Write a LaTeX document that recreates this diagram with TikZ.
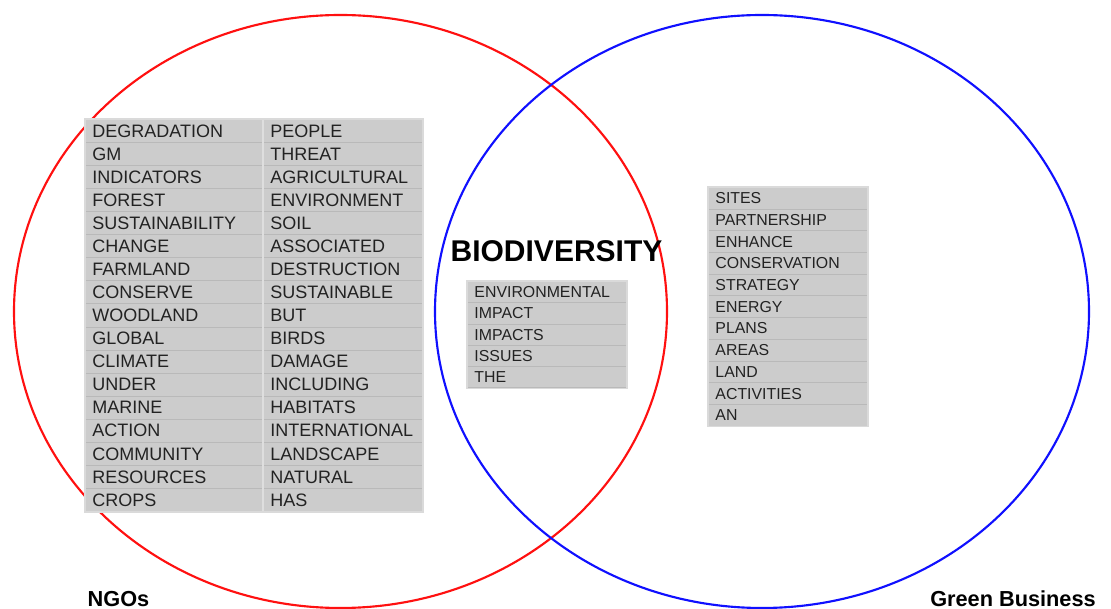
\documentclass[tikz,border=0pt]{standalone}
\usepackage{fontspec}
\setmainfont{Liberation Sans}
\begin{document}
\definecolor{cellgray}{HTML}{CCCCCC}
\definecolor{rowline}{HTML}{B9B9B9}
\definecolor{colline}{HTML}{DEDEDE}
\definecolor{frameline}{HTML}{DADADA}
\definecolor{wordcol}{HTML}{222222}
\definecolor{ngored}{HTML}{FF1010}
\definecolor{bizblue}{HTML}{1010FF}
\begin{tikzpicture}[x=0.75pt,y=-0.75pt,
  circ/.style={line width=1.6pt},
  cellbase/.style={rectangle,fill=cellgray,draw=rowline,line width=0.7pt,
    inner ysep=0pt,inner xsep=7*0.75pt,align=left,anchor=north west,text=wordcol},
  bigcell/.style={cellbase,font=\fontsize{13.5pt}{14pt}\selectfont,
    minimum height=23.06*0.75pt},
  wideA/.style={bigcell,text width=164*0.75pt},
  wideB/.style={bigcell,text width=145*0.75pt},
  smallcell/.style={cellbase,font=\fontsize{11.9pt}{12.5pt}\selectfont,
    text width=145*0.75pt},
  title/.style={font=\fontsize{22.5pt}{24pt}\selectfont\bfseries,anchor=base},
  setlabel/.style={font=\fontsize{16.3pt}{18pt}\selectfont\bfseries,anchor=base}]
\useasboundingbox (0,0) rectangle (1111,609);

% the two sets
\draw[circ,ngored] (340.5,311.5) ellipse [x radius=326.5, y radius=296.5];
\draw[circ,bizblue] (762,311.5) ellipse [x radius=327, y radius=296.5];

% NGO word list, two columns
\foreach \w [count=\i from 0] in {DEGRADATION,GM,INDICATORS,FOREST,SUSTAINABILITY,CHANGE,FARMLAND,CONSERVE,WOODLAND,GLOBAL,CLIMATE,UNDER,MARINE,ACTION,COMMUNITY,RESOURCES,CROPS}
  \node[wideA] (na\i) at (85,{119+\i*23.06}) {\w};
\foreach \w [count=\i from 0] in {PEOPLE,THREAT,AGRICULTURAL,ENVIRONMENT,SOIL,ASSOCIATED,DESTRUCTION,SUSTAINABLE,BUT,BIRDS,DAMAGE,INCLUDING,HABITATS,INTERNATIONAL,LANDSCAPE,NATURAL,HAS}
  \node[wideB] (nb\i) at (263,{119+\i*23.06}) {\w};
\draw[colline,line width=0.9pt] (nb0.north west) -- (nb16.south west);
\draw[frameline,line width=0.9pt] (na0.north west) rectangle (nb16.south east);

% shared word list
\foreach \w [count=\i from 0] in {ENVIRONMENTAL,IMPACT,IMPACTS,ISSUES,THE}
  \node[smallcell,minimum height=21.3*0.75pt] (m\i) at (467,{281+\i*21.3}) {\w};
\draw[frameline,line width=0.9pt] (m0.north west) rectangle (m4.south east);

% green business word list
\foreach \w [count=\i from 0] in {SITES,PARTNERSHIP,ENHANCE,CONSERVATION,STRATEGY,ENERGY,PLANS,AREAS,LAND,ACTIVITIES,AN}
  \node[smallcell,minimum height=21.7*0.75pt] (g\i) at (708,{187+\i*21.7}) {\w};
\draw[frameline,line width=0.9pt] (g0.north west) rectangle (g10.south east);

% headings
\node[title] (bio) at (556.5,262) {BIODIVERSITY};
\node[setlabel] (ngo) at (118.5,606.5) {NGOs};
\node[setlabel] (biz) at (1013,606.5) {Green Business};
\end{tikzpicture}
\end{document}
